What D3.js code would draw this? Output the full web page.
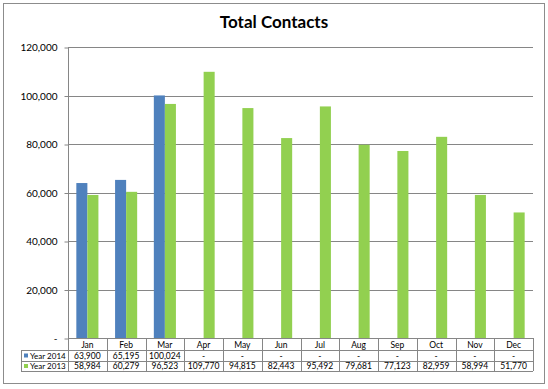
<!DOCTYPE html>
<html>
<head>
<meta charset="utf-8">
<script src="https://cdn.jsdelivr.net/npm/d3@7"></script>
<style>
  body { margin: 0; background: #fff; }
  svg text { font-family: Lato, "Open Sans", sans-serif; fill: #000; }
</style>
</head>
<body>
<svg id="chart" width="548" height="389"></svg>
<script>
const months = ["Jan", "Feb", "Mar", "Apr", "May", "Jun", "Jul", "Aug", "Sep", "Oct", "Nov", "Dec"];
const seriesNames = ["Year 2014", "Year 2013"];
const year2014 = [63900, 65195, 100024, null, null, null, null, null, null, null, null, null];
const year2013 = [58984, 60279, 96523, 109770, 94815, 82443, 95492, 79681, 77123, 82959, 58994, 51770];
const yTicks = [0, 20000, 40000, 60000, 80000, 100000, 120000];
const colours = ["#4F81BD", "#92D050"];

const svg = d3.select("#chart");
const plotLeft = 68, plotRight = 533, plotTop = 47, plotBottom = 338;
const rowH = [12, 11, 10];
const legendLeft = 21;
const gridColour = "#868686";

// outer frame
svg.append("rect")
  .attr("x", 3.5).attr("y", 3.5)
  .attr("width", 541).attr("height", 380)
  .attr("fill", "#fff")
  .attr("stroke", "#8c8c8c");

svg.append("text")
  .attr("x", 274).attr("y", 28)
  .attr("text-anchor", "middle")
  .attr("font-size", 17)
  .attr("font-weight", "bold")
  .text("Total Contacts");

const x = d3.scaleBand().domain(months).range([plotLeft, plotRight]);
const bw = x.bandwidth() * 0.285;
const y = d3.scaleLinear().domain([0, 120000]).range([plotBottom, plotTop]);

// gridlines
svg.append("g").selectAll("line")
  .data(yTicks.filter(d => d > 0))
  .join("line")
  .attr("x1", plotLeft).attr("x2", plotRight)
  .attr("y1", d => Math.round(y(d)) + 0.5)
  .attr("y2", d => Math.round(y(d)) + 0.5)
  .attr("stroke", gridColour);

// y axis
const fmt = d3.format(",");
const yAxis = d3.axisLeft(y)
  .tickValues(yTicks)
  .tickSize(4)
  .tickPadding(7)
  .tickFormat(d => d === 0 ? "-" : fmt(d));
const ag = svg.append("g")
  .attr("transform", `translate(${plotLeft + 0.5},0.5)`)
  .call(yAxis);
ag.select(".domain").remove();
ag.selectAll(".tick line").attr("stroke", gridColour);
ag.selectAll(".tick text").attr("font-size", 10).style("font-family", "Lato, sans-serif").attr("fill", "#000");
svg.append("line")
  .attr("x1", plotLeft + 0.5).attr("x2", plotLeft + 0.5)
  .attr("y1", plotTop).attr("y2", plotBottom)
  .attr("stroke", gridColour);

// bars
const series = [year2014, year2013];
series.forEach((vals, si) => {
  svg.append("g").selectAll("rect")
    .data(months.map((m, i) => ({ m: m, v: vals[i] })).filter(d => d.v != null))
    .join("rect")
    .attr("x", d => x(d.m) + x.bandwidth() / 2 - bw + si * bw)
    .attr("width", bw)
    .attr("y", d => y(d.v))
    .attr("height", d => plotBottom - y(d.v))
    .attr("fill", colours[si]);
});

// data table
const rowY = [plotBottom, plotBottom + rowH[0], plotBottom + rowH[0] + rowH[1], plotBottom + rowH[0] + rowH[1] + rowH[2]];
const tbl = svg.append("g").attr("stroke", gridColour).attr("shape-rendering", "crispEdges");
rowY.forEach((ry, i) => {
  tbl.append("line")
    .attr("x1", i === 0 ? plotLeft : legendLeft).attr("x2", plotRight)
    .attr("y1", ry + 0.5).attr("y2", ry + 0.5);
});
const vx = months.map(m => x(m)).concat([plotRight]);
tbl.selectAll("line.v")
  .data(vx)
  .join("line")
  .attr("class", "v")
  .attr("x1", d => Math.round(d) + 0.5).attr("x2", d => Math.round(d) + 0.5)
  .attr("y1", plotBottom).attr("y2", rowY[3]);
tbl.append("line")
  .attr("x1", legendLeft + 0.5).attr("x2", legendLeft + 0.5)
  .attr("y1", rowY[1]).attr("y2", rowY[3]);

svg.append("g").selectAll("text")
  .data(months)
  .join("text")
  .attr("x", d => x(d) + x.bandwidth() / 2)
  .attr("y", plotBottom + 9.5)
  .attr("text-anchor", "middle")
  .attr("font-size", 8.5)
  .text(d => d);

series.forEach((vals, si) => {
  const cy = rowY[si + 1] + rowH[si + 1] - 2.5;
  svg.append("g").selectAll("text")
    .data(months.map((m, i) => ({ m: m, v: vals[i] })))
    .join("text")
    .attr("x", d => x(d.m) + x.bandwidth() / 2)
    .attr("y", cy)
    .attr("text-anchor", "middle")
    .attr("font-size", 8.5)
    .text(d => d.v == null ? "-" : fmt(d.v));
  svg.append("rect")
    .attr("x", legendLeft + 3).attr("y", rowY[si + 1] + rowH[si + 1] / 2 - 2)
    .attr("width", 4).attr("height", 4)
    .attr("fill", colours[si]);
  svg.append("text")
    .attr("x", legendLeft + 9).attr("y", cy)
    .attr("font-size", 8)
    .text(seriesNames[si]);
});
</script>
</body>
</html>
